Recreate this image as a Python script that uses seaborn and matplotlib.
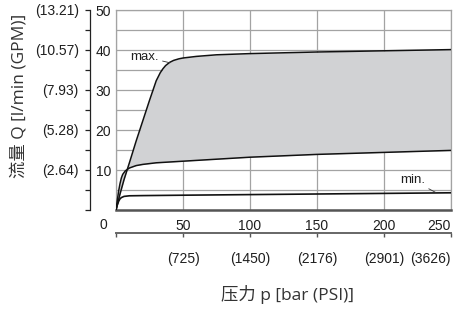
import matplotlib
matplotlib.use("Agg")
import matplotlib.pyplot as plt
import seaborn as sns
import numpy as np

# ---- data ----
pressure_max = [0, 3, 6, 10, 15, 20, 25, 30, 33, 35, 37, 40, 43, 47, 50, 60, 75, 100, 125, 150, 175, 200, 225, 250]
flow_max = [0, 4.0, 7.6, 11.8, 17.2, 22.3, 27.4, 32.3, 34.3, 35.3, 36.1, 36.9, 37.4, 37.8, 38.0, 38.4, 38.8, 39.1, 39.3, 39.5, 39.65, 39.8, 39.95, 40.1]

pressure_mid = [0, 1, 2, 3, 4, 5, 7, 10, 15, 20, 30, 50, 75, 100, 150, 200, 250]
flow_mid = [0, 2.5, 4.8, 6.6, 8.0, 8.9, 9.8, 10.5, 11.1, 11.4, 11.8, 12.2, 12.7, 13.2, 13.9, 14.4, 14.9]

pressure_min = [0, 1, 2, 3, 4, 6, 10, 20, 50, 100, 150, 200, 250]
flow_min = [0, 1.3, 2.2, 2.8, 3.1, 3.4, 3.55, 3.6, 3.7, 3.85, 4.0, 4.15, 4.3]

bar_ticks = [0, 50, 100, 150, 200, 250]
bar_labels = ["", "50", "100", "150", "200", "250"]
psi_labels = ["", "(725)", "(1450)", "(2176)", "(2901)", "(3626)"]
lpm_ticks = [0, 5, 10, 15, 20, 25, 30, 35, 40, 45, 50]
lpm_labels = ["", "", "10", "", "20", "", "30", "", "40", "", "50"]
gpm_labels = ["", "", "(2.64)", "", "(5.28)", "", "(7.93)", "", "(10.57)", "", "(13.21)"]

xlabel = "压力 p [bar (PSI)]"
ylabel = "流量 Q [l/min (GPM)]"

# ---- style ----
sns.set_theme(style="white")
NARROW = ["Liberation Sans", "DejaVu Sans"]
LABELF = ["Open Sans", "Noto Sans CJK SC", "DejaVu Sans"]
plt.rcParams["font.family"] = NARROW
TS = 10

W, H = 458, 309
fig = plt.figure(figsize=(W / 100, H / 100), dpi=100)
L, R, T, B = 116, 451, 10, 210
ax = fig.add_axes([L / W, 1 - B / H, (R - L) / W, (B - T) / H])

grid_c = "#a3a3a3"
fill_c = "#d1d2d4"
txt_c = "#1e1e1e"

px = sorted(set(pressure_max) | set(pressure_mid))
ax.fill_between(px, np.interp(px, pressure_mid, flow_mid), np.interp(px, pressure_max, flow_max),
                color=fill_c, lw=0, zorder=1)

sns.lineplot(x=pressure_max, y=flow_max, ax=ax, color="#111111", lw=1.1, zorder=3)
sns.lineplot(x=pressure_mid, y=flow_mid, ax=ax, color="#111111", lw=1.1, zorder=3)
sns.lineplot(x=pressure_min, y=flow_min, ax=ax, color="#111111", lw=1.2, zorder=3)

ax.set_xlim(0, 250)
ax.set_ylim(0, 50)
ax.set_xticks(bar_ticks)
ax.set_xticklabels(bar_labels)
ax.set_yticks(lpm_ticks)
ax.set_yticklabels(lpm_labels)
ax.grid(True, color=grid_c, lw=0.9)
for ln in ax.get_xgridlines() + ax.get_ygridlines():
    ln.set_zorder(2)
ax.tick_params(axis="x", length=0, pad=6.5, labelsize=TS, colors=txt_c)
ax.tick_params(axis="y", length=0, pad=3.5, labelsize=TS, colors=txt_c)
ax.get_xticklabels()[-1].set_ha("right")
for s in ["top", "left", "right"]:
    ax.spines[s].set_color(grid_c)
    ax.spines[s].set_linewidth(0.9)
ax.spines["bottom"].set_color("#555555")
ax.spines["bottom"].set_linewidth(1.8)

ax.annotate("0", xy=(0, 0), xycoords=("data", "axes fraction"), xytext=(-9, -11),
            textcoords="offset points", ha="center", va="center", fontsize=TS, color=txt_c)

# bottom bar/PSI axis
secx = ax.secondary_xaxis((B - 233) / (B - T))
secx.set_xticks(bar_ticks)
secx.set_xticklabels(psi_labels)
secx.tick_params(axis="x", direction="out", length=3, width=1, color="#555555",
                 pad=10.5, labelsize=TS, labelcolor=txt_c)
secx.get_xticklabels()[-1].set_ha("right")
secx.spines["bottom"].set_color("#666666")
secx.spines["bottom"].set_linewidth(1.4)

# left GPM bracket axis
secy = ax.secondary_yaxis((90 - L) / (R - L))
secy.set_yticks(lpm_ticks)
secy.set_yticklabels(gpm_labels)
secy.tick_params(axis="y", direction="out", length=3.6, width=0.9, color="#222222",
                 pad=4.5, labelsize=TS, labelcolor=txt_c)
secy.spines["left"].set_color("#222222")
secy.spines["left"].set_linewidth(0.9)

# labels
ax.set_xlabel(xlabel, fontsize=12.5, family=LABELF, color="#333333", va="top")
ax.xaxis.set_label_coords((288 - L) / (R - L), (B - 285) / (B - T))
ax.set_ylabel(ylabel, fontsize=12.5, family=LABELF, color="#333333")
ax.yaxis.set_label_coords((28 - L) / (R - L), (B - 96) / (B - T))

# curve annotations
ax.annotate("max.", xy=(40.3, 36.8), xytext=(31.8, 38.3), ha="right", va="center",
            fontsize=TS - 0.5, color=txt_c,
            arrowprops=dict(arrowstyle="-", color="#333333", lw=0.6, shrinkA=0.5, shrinkB=0))
ax.annotate("min.", xy=(238.5, 4.4), xytext=(230.5, 7.5), ha="right", va="center",
            fontsize=TS - 0.5, color=txt_c,
            arrowprops=dict(arrowstyle="-", color="#333333", lw=0.6, shrinkA=0.5, shrinkB=0))

fig.savefig("out.png", dpi=100)
